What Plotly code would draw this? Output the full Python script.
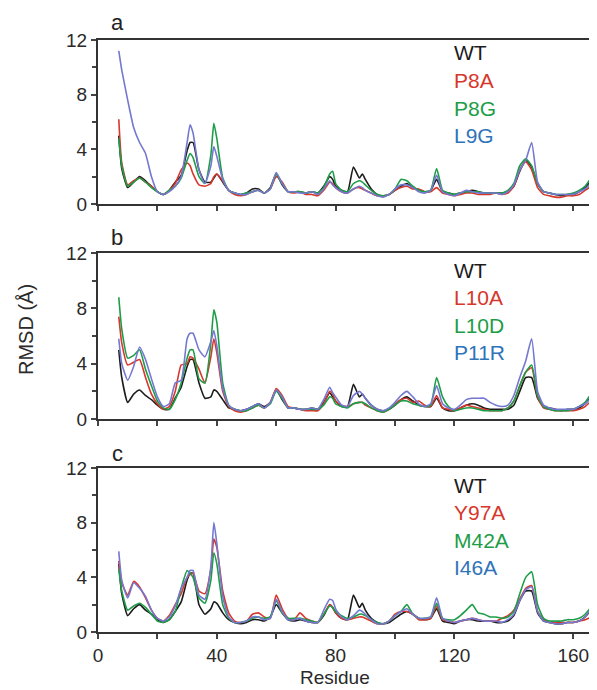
import plotly.graph_objects as go
from plotly.subplots import make_subplots

# residue numbers shared by every trace
residues = [7, 8, 10, 12, 14, 16, 18, 20, 22, 24,
            26, 28, 30, 31, 32, 34, 36, 38, 39, 40,
            42, 44, 46, 48, 50, 52, 54, 56, 58, 60,
            62, 64, 66, 68, 70, 72, 74, 76, 78, 79,
            80, 82, 84, 86, 88, 89, 90, 92, 94, 96,
            98, 100, 102, 104, 106, 108, 110, 112, 114, 116,
            118, 120, 122, 124, 126, 128, 130, 132, 134, 136,
            138, 140, 142, 144, 146, 148, 150, 152, 154, 156,
            158, 160, 162, 164, 166, 168]

# panel a
wt_a = [5.0, 2.6, 1.2, 1.6, 2.0, 1.7, 1.3, 0.9, 0.7, 1.0,
        1.6, 2.1, 3.9, 4.5, 4.5, 2.5, 1.6, 1.6, 1.9, 2.2,
        1.6, 1.0, 0.8, 0.7, 0.8, 1.1, 1.1, 0.8, 1.2, 2.2,
        1.4, 0.9, 0.9, 0.9, 0.8, 0.9, 0.8, 1.3, 2.0, 1.8,
        1.3, 1.0, 0.9, 2.7, 1.9, 2.2, 1.8, 1.1, 0.7, 0.6,
        0.7, 1.0, 1.3, 1.5, 1.2, 1.0, 0.9, 1.0, 1.8, 0.9,
        0.8, 0.7, 0.8, 0.9, 1.0, 0.9, 0.8, 0.8, 0.8, 0.8,
        0.9, 1.3, 2.4, 3.2, 2.7, 1.5, 0.9, 0.8, 0.7, 0.6,
        0.7, 0.7, 0.9, 1.2, 1.7, 2.2]
p8a = [6.2, 3.0, 1.4, 1.7, 1.9, 1.6, 1.3, 0.9, 0.7, 1.0,
       1.5, 2.5, 3.0, 2.8, 2.2, 1.4, 1.3, 1.5, 2.0, 2.2,
       1.7, 1.0, 0.7, 0.6, 0.7, 0.9, 1.0, 0.8, 1.1, 2.0,
       1.6, 0.9, 0.8, 0.9, 0.7, 0.7, 0.6, 1.0, 1.6, 1.5,
       1.2, 0.9, 0.8, 1.1, 1.2, 1.1, 1.0, 0.8, 0.6, 0.6,
       0.7, 1.0, 1.2, 1.3, 1.1, 1.1, 0.9, 0.9, 1.2, 0.8,
       0.7, 0.6, 0.7, 0.8, 0.8, 0.7, 0.7, 0.7, 0.8, 0.7,
       0.8, 1.3, 2.5, 3.1, 2.5, 1.2, 0.7, 0.6, 0.5, 0.5,
       0.6, 0.6, 0.7, 1.0, 1.3, 1.8]
p8g = [4.8, 2.8, 1.3, 1.6, 1.9, 1.6, 1.2, 0.9, 0.7, 1.0,
       1.3, 1.9, 3.2, 3.7, 3.4, 2.0, 1.5, 3.6, 5.9, 4.8,
       1.9, 1.0, 0.8, 0.7, 0.8, 0.9, 1.0, 0.8, 1.1, 2.2,
       1.5, 0.9, 0.9, 0.9, 0.8, 0.9, 0.8, 1.2, 2.2, 2.4,
       1.5, 1.0, 0.9, 1.5, 1.7, 1.6, 1.4, 1.0, 0.7, 0.6,
       0.7, 1.1, 1.8, 1.7, 1.3, 1.0, 0.9, 1.0, 2.6, 1.0,
       0.8, 0.7, 0.8, 0.9, 0.9, 0.9, 0.8, 0.8, 0.8, 0.8,
       1.0, 1.5, 2.8, 3.3, 2.8, 1.5, 0.9, 0.8, 0.7, 0.7,
       0.7, 0.8, 1.0, 1.3, 1.9, 2.4]
l9g = [11.2, 9.8, 7.6, 5.6, 4.5, 3.7, 2.0, 0.9, 0.7, 0.9,
       1.3, 2.0, 4.5, 5.8, 5.2, 2.5, 1.5, 2.8, 4.2, 3.5,
       1.8, 1.0, 0.8, 0.7, 0.7, 0.9, 1.0, 0.8, 1.1, 2.3,
       1.5, 0.9, 0.9, 0.8, 0.8, 0.9, 0.7, 1.1, 1.7, 1.4,
       1.2, 0.9, 0.8, 1.1, 1.3, 1.2, 1.0, 0.8, 0.6, 0.5,
       0.7, 1.1, 1.4, 1.4, 1.2, 0.9, 0.8, 1.0, 2.1, 0.9,
       0.7, 0.6, 0.8, 1.0, 0.9, 0.8, 0.8, 0.8, 0.8, 0.7,
       0.9, 1.4, 2.5, 3.2, 4.5, 1.6, 0.9, 0.8, 0.7, 0.7,
       0.7, 0.7, 0.9, 1.1, 1.5, 1.9]

# panel b
wt_b = [5.0, 3.0, 1.2, 1.8, 2.1, 1.7, 1.4, 1.0, 0.7, 0.7,
        1.5, 2.3, 3.8, 4.3, 4.3, 2.6, 1.5, 1.6, 2.1, 2.0,
        1.4, 0.8, 0.7, 0.6, 0.7, 0.9, 1.1, 0.9, 1.2, 2.1,
        1.4, 0.8, 0.8, 0.7, 0.7, 0.8, 0.7, 1.2, 1.9, 1.6,
        1.3, 0.9, 0.9, 2.5, 1.6, 1.8, 1.5, 1.0, 0.7, 0.6,
        0.7, 1.0, 1.4, 1.6, 1.3, 1.0, 0.9, 0.9, 1.5, 0.8,
        0.6, 0.6, 0.8, 1.0, 1.1, 1.0, 0.8, 0.7, 0.7, 0.7,
        0.7, 1.0, 2.0, 3.0, 3.0, 1.5, 0.9, 0.8, 0.7, 0.6,
        0.7, 0.7, 0.8, 1.1, 1.6, 1.9]
l10a = [7.4, 5.5, 3.9, 4.1, 4.3, 3.0, 1.8, 1.1, 0.7, 0.9,
        2.0, 3.9, 4.0, 4.5, 4.4, 3.6, 2.6, 4.5, 5.8, 4.8,
        2.0, 0.9, 0.6, 0.5, 0.6, 0.8, 1.0, 0.8, 1.2, 2.2,
        1.7, 0.9, 0.8, 0.7, 0.6, 0.6, 0.6, 1.1, 2.0, 1.8,
        1.3, 1.0, 0.9, 1.1, 1.2, 1.2, 1.0, 0.8, 0.6, 0.5,
        0.7, 1.1, 1.4, 1.5, 1.2, 1.3, 1.0, 0.9, 1.7, 0.8,
        0.7, 0.6, 0.8, 1.0, 0.9, 0.8, 0.7, 0.6, 0.6, 0.6,
        0.8, 1.3, 2.4, 3.4, 3.7, 1.6, 0.8, 0.7, 0.6, 0.6,
        0.6, 0.6, 0.7, 0.9, 1.3, 1.7]
l10d = [8.8, 6.5, 4.4, 4.6, 5.0, 3.6, 2.4, 1.3, 0.8, 0.7,
        1.4, 2.6, 4.4, 5.0, 5.0, 2.9, 2.6, 5.5, 7.9, 7.0,
        2.6, 1.0, 0.7, 0.6, 0.6, 0.8, 1.0, 0.8, 1.1, 2.0,
        1.5, 0.8, 0.8, 0.7, 0.7, 0.7, 0.7, 1.0, 1.6, 1.5,
        1.1, 0.9, 0.8, 1.1, 1.2, 1.2, 1.1, 0.8, 0.6, 0.5,
        0.7, 1.0, 1.3, 1.3, 1.1, 1.0, 0.9, 1.0, 3.0, 1.6,
        0.9, 0.6, 0.7, 0.8, 0.8, 0.7, 0.6, 0.6, 0.6, 0.6,
        0.8, 1.3, 2.4, 3.4, 3.9, 1.7, 0.9, 0.7, 0.6, 0.6,
        0.6, 0.7, 0.9, 1.2, 1.8, 2.1]
p11r = [5.8, 4.0, 2.8, 3.8, 5.2, 4.3, 2.9, 1.6, 0.9, 1.1,
        2.6, 2.8, 5.8, 6.2, 6.2, 5.0, 4.5, 5.6, 6.4, 5.3,
        2.2, 1.0, 0.7, 0.6, 0.7, 0.9, 1.1, 0.8, 1.2, 2.1,
        1.6, 0.8, 0.8, 0.7, 0.7, 0.8, 0.7, 1.4, 2.3, 1.9,
        1.6, 1.0, 0.9, 1.7, 2.0, 1.8, 1.5, 1.0, 0.7, 0.6,
        0.8, 1.2, 1.7, 2.0, 1.6, 1.1, 0.9, 1.1, 2.4, 1.1,
        0.8, 0.7, 1.0, 1.4, 1.5, 1.5, 1.5, 1.2, 1.0, 0.9,
        1.0, 1.7, 3.0, 4.2, 5.8, 2.0, 1.0, 0.8, 0.7, 0.7,
        0.7, 0.7, 0.9, 1.1, 1.5, 1.8]

# panel c
wt_c = [5.0, 2.8, 1.2, 1.7, 2.0, 1.6, 1.3, 0.9, 0.7, 0.9,
        1.5, 2.2, 3.8, 4.3, 4.3, 2.0, 1.3, 1.7, 2.2, 2.1,
        1.4, 0.9, 0.7, 0.6, 0.7, 0.9, 0.9, 0.8, 1.1, 2.0,
        1.4, 0.9, 0.8, 0.9, 0.8, 0.7, 0.7, 1.2, 2.0, 1.8,
        1.4, 1.0, 0.9, 2.7, 1.8, 2.1, 1.6, 1.0, 0.7, 0.6,
        0.7, 1.0, 1.3, 1.5, 1.3, 1.0, 0.9, 1.0, 1.7, 0.8,
        0.7, 0.6, 0.8, 0.9, 0.9, 0.8, 0.8, 0.8, 0.7, 0.7,
        0.8, 1.2, 2.3, 3.0, 3.0, 1.4, 0.8, 0.7, 0.6, 0.6,
        0.7, 0.7, 0.8, 1.1, 1.6, 2.0]
y97a = [5.2, 3.6, 2.7, 3.7, 3.3, 2.5, 1.6, 1.0, 0.8, 1.2,
        2.0, 2.8, 4.0, 4.2, 4.3, 3.0, 2.8, 4.6, 6.8, 6.2,
        3.0, 1.4, 0.8, 0.7, 0.8, 1.3, 1.4, 1.1, 1.0, 2.7,
        1.7, 1.0, 0.9, 1.4, 1.0, 0.8, 0.7, 1.3, 2.0, 1.8,
        1.4, 1.0, 0.9, 1.0, 1.1, 1.1, 1.0, 0.8, 0.6, 0.6,
        0.8, 1.3, 1.5, 1.5, 1.3, 0.9, 0.9, 1.0, 1.9, 0.9,
        0.8, 0.7, 0.8, 0.9, 1.0, 0.9, 0.8, 0.8, 0.8, 1.0,
        1.2, 1.6, 2.4, 3.2, 3.4, 1.5, 0.9, 0.7, 0.7, 0.7,
        0.7, 0.7, 0.8, 0.9, 1.1, 1.5]
m42a = [4.6, 3.0, 1.6, 1.9, 2.1, 1.8, 1.3, 0.8, 0.7, 0.9,
        1.5, 3.2, 4.5, 4.3, 4.0, 2.5, 2.1, 3.8, 5.8, 5.0,
        2.0, 1.0, 0.7, 0.7, 0.8, 1.0, 1.1, 1.0, 1.1, 2.3,
        1.4, 1.0, 1.0, 1.0, 0.9, 0.8, 0.7, 1.3, 1.9, 1.8,
        1.5, 1.2, 1.0, 1.1, 1.3, 1.3, 1.2, 0.9, 0.7, 0.6,
        0.8, 1.2, 1.5, 2.0, 1.3, 1.0, 1.0, 1.1, 2.1, 1.0,
        0.9, 0.9, 1.2, 1.6, 2.0, 1.4, 1.3, 1.1, 1.1, 1.0,
        1.1, 1.5, 2.8, 4.0, 4.4, 2.0, 1.0, 0.8, 0.8, 0.8,
        0.9, 0.9, 1.0, 1.3, 1.8, 2.3]
i46a = [5.9, 3.8, 2.5, 3.6, 3.2, 2.6, 1.6, 1.0, 0.8, 1.1,
        1.9, 3.2, 4.0, 4.5, 4.5, 2.7, 2.4, 4.8, 8.0, 6.5,
        2.6, 1.1, 0.7, 0.7, 0.8, 1.1, 1.1, 0.9, 1.0, 2.4,
        1.5, 0.9, 0.9, 1.0, 0.8, 0.7, 0.7, 1.6, 2.4, 2.3,
        1.7, 1.1, 0.9, 1.2, 1.6, 1.5, 1.3, 0.9, 0.6, 0.6,
        0.8, 1.2, 1.5, 1.7, 1.3, 1.0, 1.0, 1.1, 2.5, 1.0,
        0.8, 0.7, 0.8, 0.9, 1.0, 0.9, 0.8, 0.8, 0.8, 0.7,
        0.9, 1.3, 2.3, 3.1, 3.3, 1.5, 0.8, 0.7, 0.6, 0.6,
        0.7, 0.7, 0.8, 1.1, 1.7, 2.1]

panel_labels = ["a", "b", "c"]
legend_names = [["WT", "P8A", "P8G", "L9G"],
                ["WT", "L10A", "L10D", "P11R"],
                ["WT", "Y97A", "M42A", "I46A"]]
panel_series = [[wt_a, p8a, p8g, l9g],
                [wt_b, l10a, l10d, p11r],
                [wt_c, y97a, m42a, i46a]]

line_colors = ["#1c1c1c", "#d7372c", "#1d9d48", "#7478d0"]
text_colors = ["#1c1c1c", "#d7372c", "#1d9d48", "#2f73b9"]

# the page body adds an 8px margin, so lay out in window pixels minus that
OFF = 8
W, H = 597 - OFF, 690 - OFF
M_L, M_R, M_T, M_B = 98 - OFF, 0, 40 - OFF, 690 - 632
PLOT_H = H - M_T - M_B

def py(ypx):
    # window pixel row -> paper y
    return (H - M_B - (ypx - OFF)) / PLOT_H

def px(xpx):
    return (xpx - OFF - M_L) / (W - M_L - M_R)

def label(text, x, y, size, color, **kw):
    return dict(text=text, x=px(x), y=py(y), xref="paper", yref="paper",
                xanchor=kw.pop("xanchor", "center"), yanchor="middle",
                showarrow=False, font=dict(size=size, color=color), **kw)

# panel tops / bottoms in window pixels
panel_px = [(40, 204), (253, 419), (468, 632)]

fig = make_subplots(rows=3, cols=1)

for i, series in enumerate(panel_series):
    for j, vals in enumerate(series):
        assert len(vals) == len(residues)
        fig.add_trace(go.Scatter(x=residues, y=vals, mode="lines",
                                 line=dict(color=line_colors[j], width=1.6,
                                           shape="spline", smoothing=0.5),
                                 showlegend=False, hoverinfo="skip"),
                      row=i + 1, col=1)

annotations = []
label_rows = [23, 238, 453]
legend_tops = [53, 270, 485]
for i in range(3):
    top, bot = panel_px[i]
    n = str(i + 1) if i > 0 else ""
    last = i == 2
    fig.update_layout(**{
        "yaxis" + n: dict(domain=[py(bot), py(top)], range=[0, 12],
                          tickvals=[0, 4, 8, 12], ticks="outside", ticklen=5,
                          tickwidth=1.5, minor=dict(tickvals=[2, 6, 10], ticks="outside",
                                                    ticklen=4, tickwidth=1.5),
                          showline=True, linecolor="#333", linewidth=2,
                          showgrid=False, zeroline=False,
                          tickfont=dict(size=19, color="#2a2a2a")),
        "xaxis" + n: dict(domain=[0, 1], range=[0, 168], tickvals=list(range(0, 161, 20)),
                          ticktext=[str(v) if v % 40 == 0 else "" for v in range(0, 161, 20)],
                          showticklabels=last, ticks="outside", ticklen=5, tickwidth=1.5,
                          showline=True, mirror=True, linecolor="#333", linewidth=2,
                          showgrid=False, zeroline=False,
                          tickfont=dict(size=19, color="#2a2a2a")),
    })
    annotations.append(label(panel_labels[i], 117, label_rows[i], 22, "#222"))
    for j, name in enumerate(legend_names[i]):
        annotations.append(label(name, 452, legend_tops[i] + 27.5 * j, 21, text_colors[j],
                                 xanchor="left"))

annotations.append(label("RMSD (Å)", 26, 330, 20, "#2a2a2a", textangle=-90))
annotations.append(label("Residue", 335, 677, 19, "#2a2a2a"))

fig.update_layout(width=W, height=H, margin=dict(l=M_L, r=M_R, t=M_T, b=M_B),
                  plot_bgcolor="white", paper_bgcolor="white",
                  font=dict(family="Liberation Sans, Arial, sans-serif"),
                  annotations=annotations)

fig.write_html("out.html")
